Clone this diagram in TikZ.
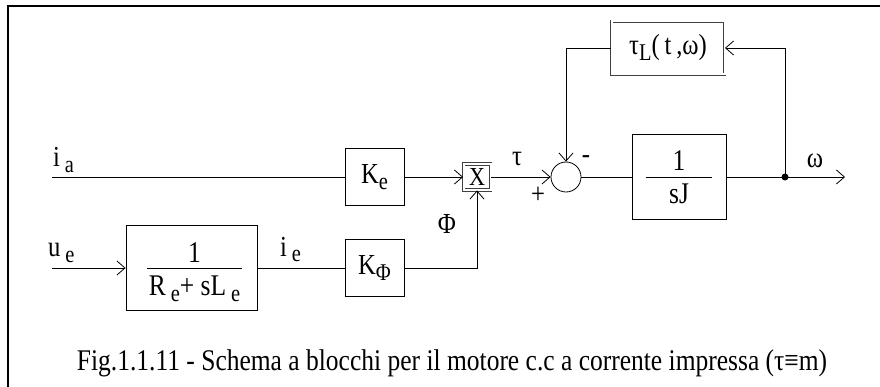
\documentclass[tikz,border=0pt]{standalone}
\usepackage{fontspec}
\setmainfont[FakeStretch=0.85]{Liberation Serif}
\usetikzlibrary{arrows.meta}
\newcommand{\sbs}[1]{\raisebox{-0.45ex}{\fontsize{24}{24}\selectfont #1}}
\begin{document}
\begin{tikzpicture}[x=1pt,y=-1pt,
  blk/.style={draw, line width=0.8pt, inner sep=0pt},
  dblk/.style={draw=black!75, double=white, double distance=2pt, line width=0.9pt, inner sep=0pt},
  wire/.style={line width=0.8pt},
  arr/.style={wire, -{Straight Barb[length=8pt,width=14pt,line width=0.8pt]}},
  lbl/.style={font=\fontsize{29}{29}\selectfont, inner sep=0pt},
  frac/.style={font=\fontsize{30}{30}\selectfont, inner sep=0pt}
]
\useasboundingbox (0,0) rectangle (880,387);
\draw[line width=1.5pt] (8,387) -- (8,6) -- (880,6);

% blocks
\node[blk, minimum width=59pt, minimum height=57pt, lbl] (ke) at (374.5,177) {K\sbs{e}};
\node[blk, minimum width=59pt, minimum height=57pt, lbl] (kphi) at (374.5,268) {K\sbs{Φ}};
\node[dblk, minimum width=27pt, minimum height=26pt, font=\fontsize{26}{26}\selectfont] (mult) at (477,177) {X};
\node[circle, draw, line width=0.8pt, minimum size=30pt, inner sep=0pt] (sum) at (566,177) {};
\node[blk, minimum width=94pt, minimum height=85pt] (sj) at (679,177) {};
\node[dblk, minimum width=113pt, minimum height=53pt, lbl] (tl) at (668,48) {τ\sbs{L}(\,t\,,ω)};
\node[blk, minimum width=131pt, minimum height=85pt] (re) at (191.5,268) {};

% fraction contents
\draw[wire] ([xshift=14pt]sj.west) -- ([xshift=-14pt]sj.east);
\node[frac, anchor=base] (sjnum) at ([yshift=6pt]sj.center) {1};
\node[frac, anchor=base] (sjden) at ([yshift=-27pt]sj.center) {sJ};
\draw[wire] ([xshift=21pt]re.west) -- ([xshift=-15pt]re.east);
\node[frac, anchor=base] (renum) at ([xshift=3pt,yshift=6pt]re.center) {1};
\node[frac, anchor=base] (reden) at ([xshift=3pt,yshift=-27pt]re.center) {R\,\sbs{e}+ sL\,\sbs{e}};

% signal endpoints
\coordinate (ia) at (52,177);
\coordinate (ue) at (52,268);
\coordinate (out) at (845,177);
\coordinate (br) at (785,177);
\coordinate (phic) at (477,268);

% connectors
\draw[wire] (ia) -- (ke.west);
\draw[arr] (ke.east) -- (mult.west);
\draw[arr] (mult.east) -- (sum.west);
\draw[wire] (sum.east) -- (sj.west);
\draw[arr] (sj.east) -- (out);
\fill (br) circle (3.5pt);
\draw[arr] (br) |- (tl.east);
\draw[arr] (tl.west) -| (sum.north);
\draw[arr] (ue) -- (re.west);
\draw[wire] (re.east) -- (kphi.west);
\draw[arr] (kphi.east) -- (phic) -- (mult.south);

% labels
\node[lbl, anchor=base west] (lia) at (53,167) {i\,\sbs{a}};
\node[lbl, anchor=base west] (lue) at (48,257) {u\,\sbs{e}};
\node[lbl, anchor=base west] (lie) at (280,256) {i\,\sbs{e}};
\node[lbl, anchor=base] (ltau) at (517,166) {τ};
\node[lbl, anchor=base] (lphi) at (447,234) {Φ};
\node[lbl, anchor=base] (lom) at (815,168) {ω};
\node[lbl, anchor=base] (lminus) at (586,164) {-};
\node[lbl, anchor=base] (lplus) at (538,204) {+};

% caption
\node[font=\fontsize{30}{30}\selectfont, inner sep=0pt, anchor=base] (cap) at (452,370)
  {Fig.1.1.11 - Schema a blocchi per il motore c.c a corrente impressa (τ≡m)};
\end{tikzpicture}
\end{document}
